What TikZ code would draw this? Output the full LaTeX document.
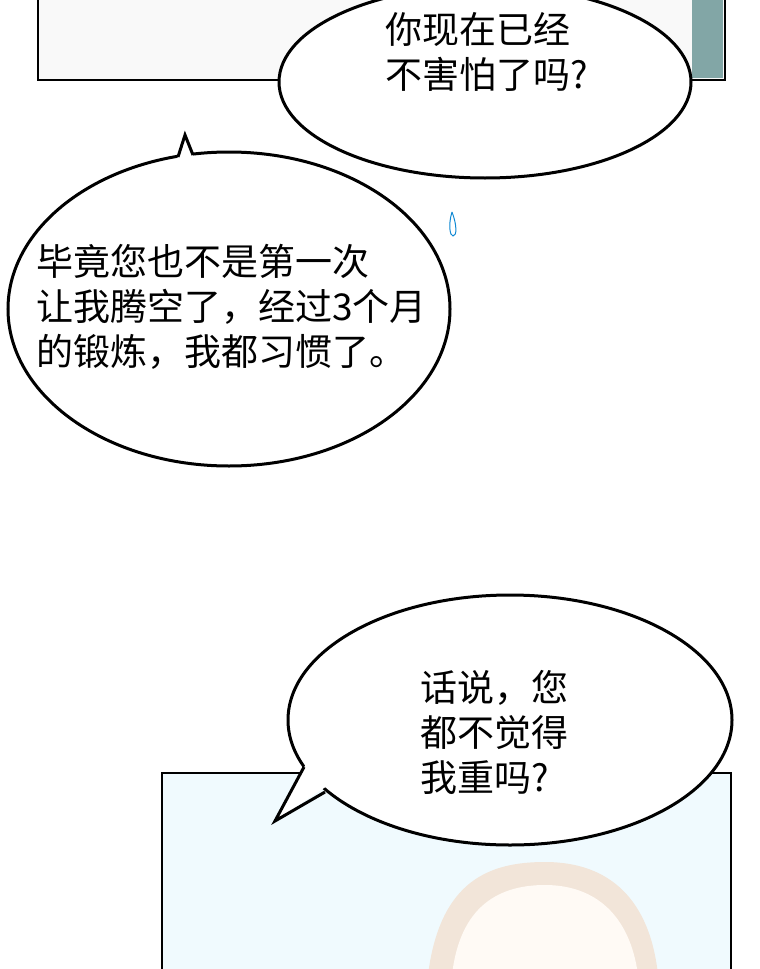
\documentclass[tikz,border=0pt]{standalone}
\usepackage{fontspec}
\newfontfamily\cjk{Noto Sans CJK SC}
\tikzset{
  panel/.style={draw=black, line width=2.5pt},
  bubble/.style={draw=black, line width=3pt, fill=white},
  tailline/.style={draw=black, line width=3pt, line join=miter},
  bubbletext/.style={font=\cjk\fontsize{37}{45}\selectfont, align=left, anchor=north west, inner sep=0pt}
}
\begin{document}
\begin{tikzpicture}[x=1pt,y=-1pt]
\useasboundingbox (0,0) rectangle (760,969);
% top panel
\fill[white!95!gray] (38,-5) rectangle (725,80);
\fill[gray!60!teal!70] (692,-5) rectangle (723,78);
\draw[panel] (38,-5) -- (38,80) -- (725,80) -- (725,-5);
% bubble at top
\begin{scope}
\clip (0,0) rectangle (760,969);
\draw[bubble] (485,82) ellipse [x radius=206, y radius=96];
\end{scope}
\node (qOne) [bubbletext] at (385,12) {你现在已经\\不害怕了吗?};
% left bubble with tail
\draw[bubble] (229,309) ellipse [x radius=221, y radius=157];
\fill[white] (176,162) -- (185,137) -- (196,162) -- cycle;
\draw[tailline] (178,157) -- (185,135) -- (193,155);
\node (answer) [bubbletext] at (36,244) {毕竟您也不是第一次\\让我腾空了，经过3个月\\的锻炼，我都习惯了。};
% drop
\draw[cyan!70!blue, line width=1pt] (452,212) .. controls (448,225) and (450,236) .. (453,236) .. controls (457,236) and (457,225) .. (452,212);
% bottom panel
\fill[white!94!cyan] (162,773) rectangle (731,975);
\draw[panel] (162,975) -- (162,773) -- (731,773) -- (731,975);
% hair
\fill[brown!20!white] (428,975) .. controls (440,880) and (490,862) .. (545,862) .. controls (610,862) and (650,900) .. (658,975) -- cycle;
\fill[white!96!orange] (452,975) .. controls (460,905) and (500,885) .. (545,885) .. controls (595,885) and (630,915) .. (638,975) -- cycle;
% right bubble with tail
\draw[bubble] (510,720) ellipse [x radius=222, y radius=125];
\fill[white] (308,760) -- (276,820) -- (330,784) -- cycle;
\draw[tailline] (304,767) -- (275,821) -- (325,792);
\node (qTwo) [bubbletext] at (420,670) {话说，您\\都不觉得\\我重吗?};
\end{tikzpicture}
\end{document}
